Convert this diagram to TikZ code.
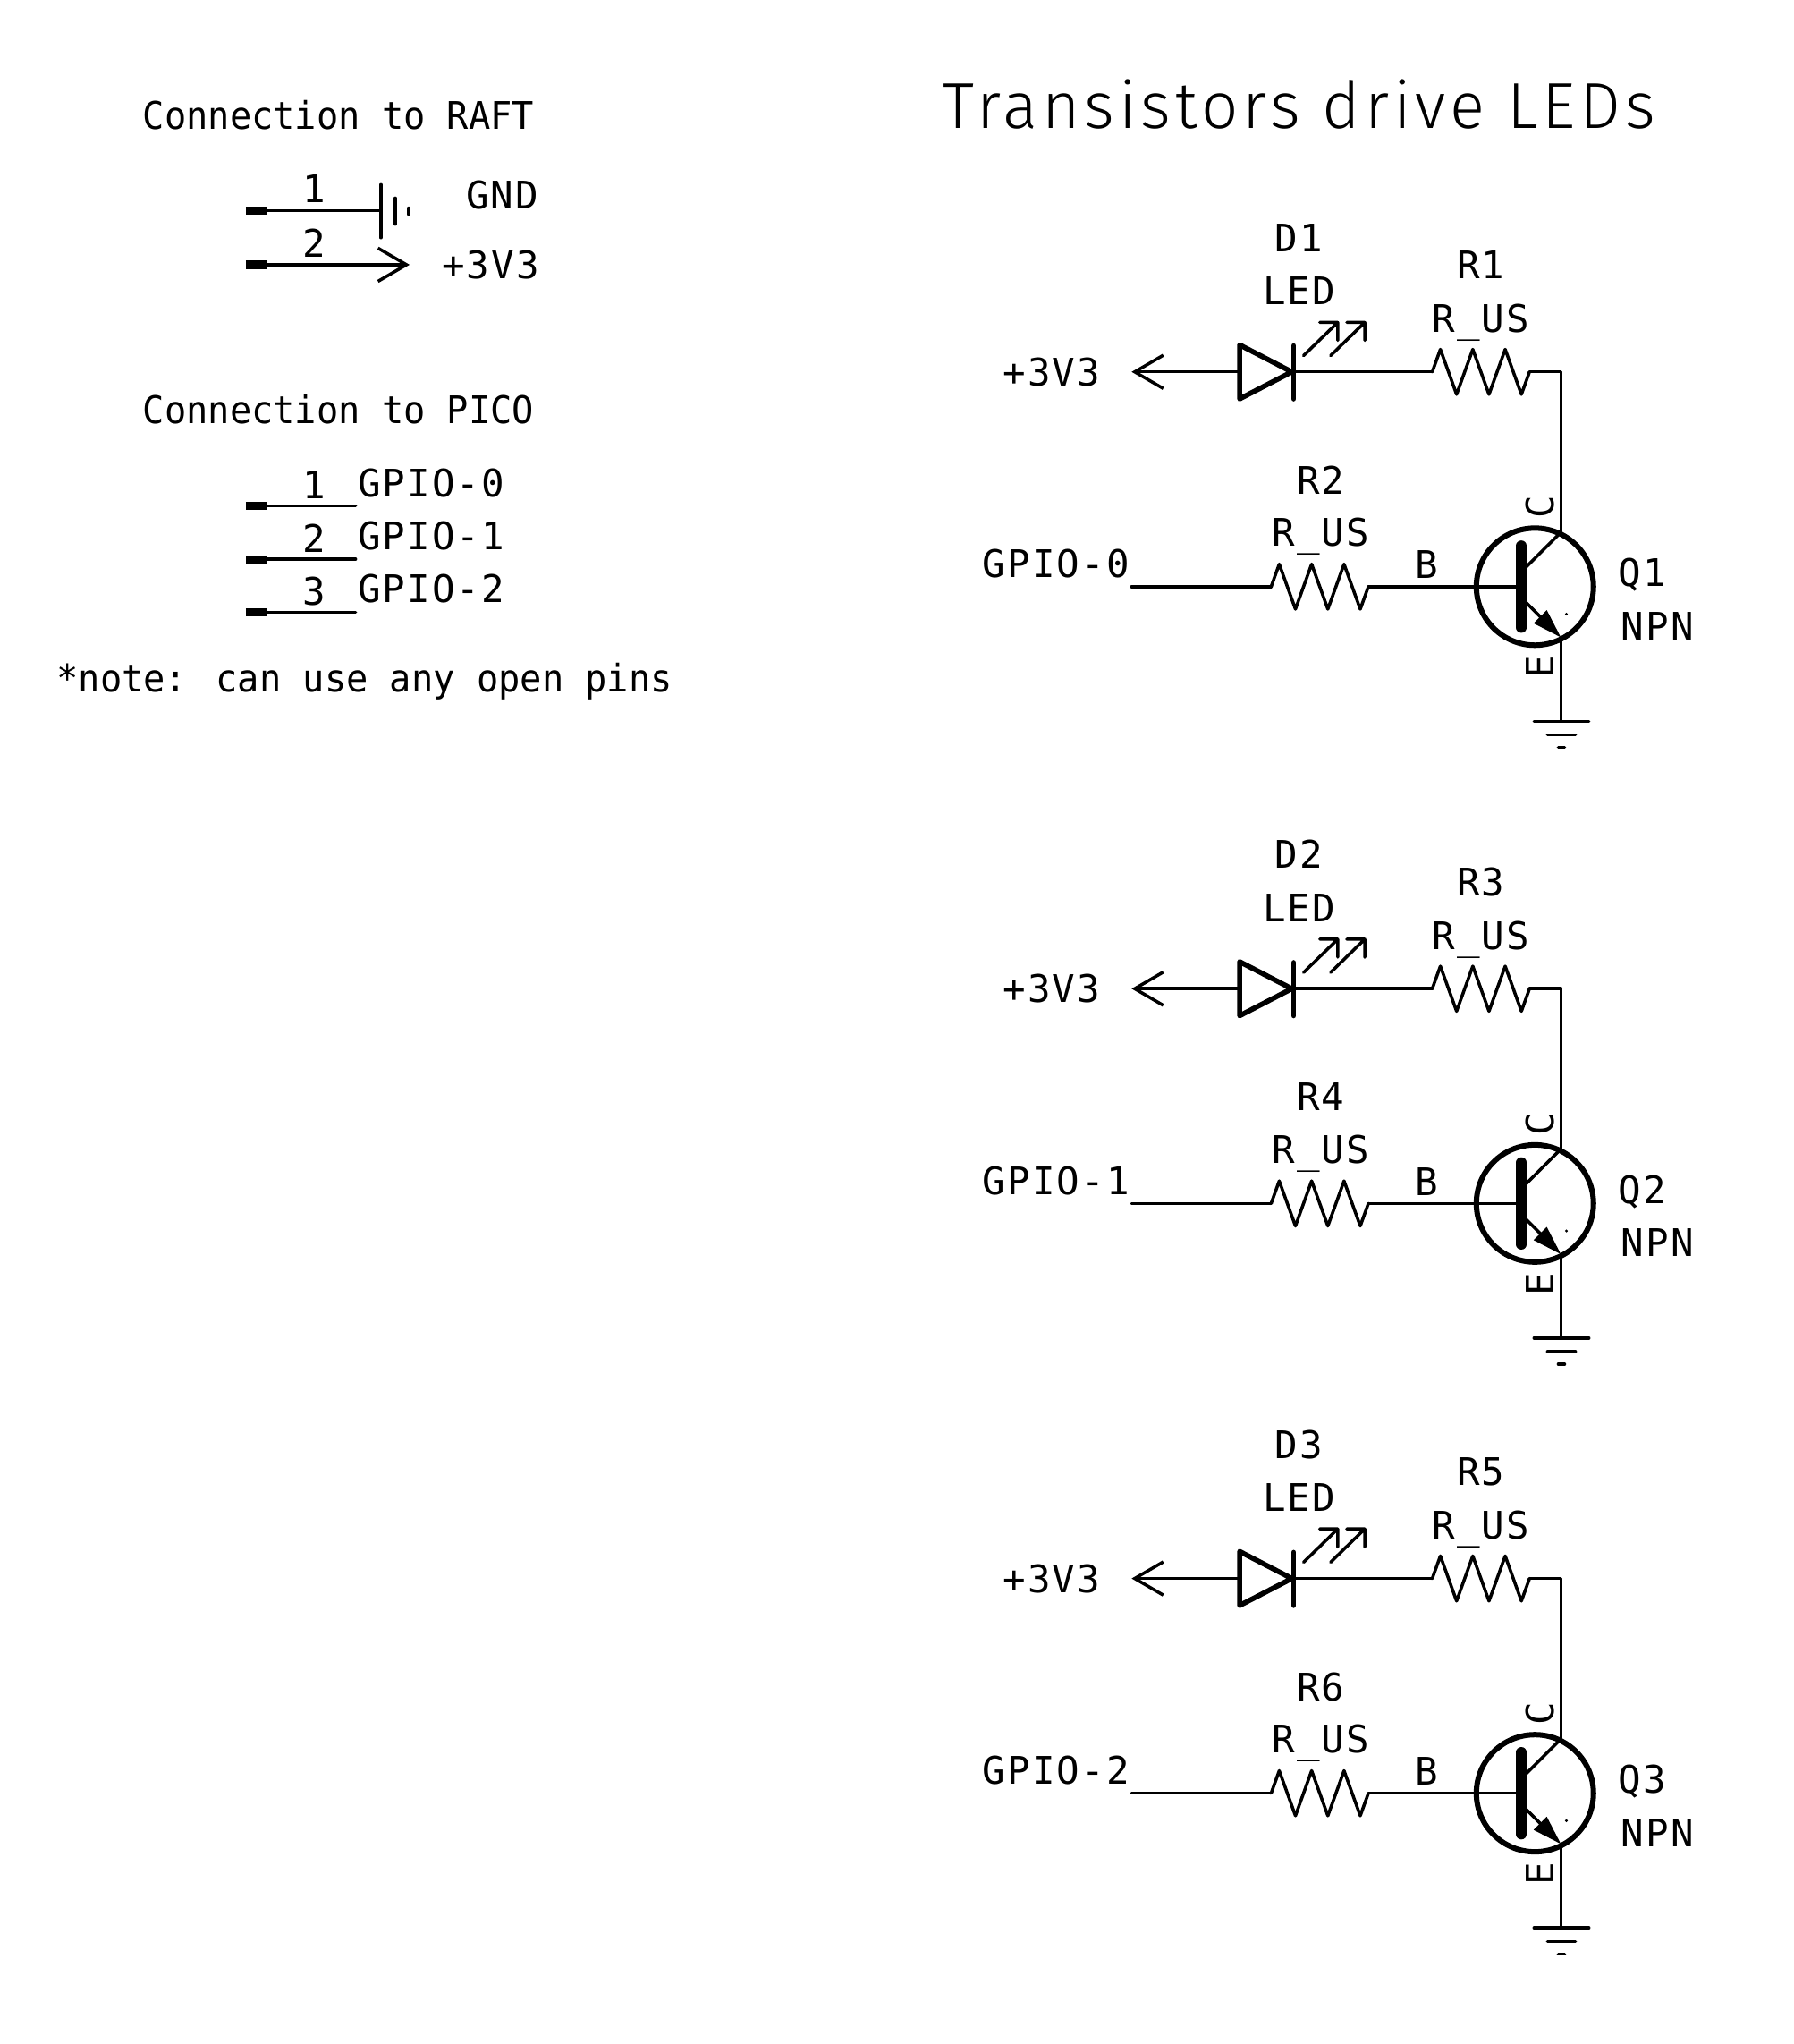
\documentclass[tikz,border=0pt]{standalone}
\usepackage{fontspec}
\usetikzlibrary{arrows.meta}
\newfontfamily\schfont[FakeStretch=0.95]{DejaVu Sans Mono}
\newfontfamily\symfont[LetterSpace=5]{DejaVu Sans Mono}
\newfontfamily\headfont[LetterSpace=6.7]{Fira Sans Light}
\tikzset{
	wire/.style={line width=1pt},
	heavy/.style={line width=1.6pt},
	pad/.style={line width=2.6pt, line cap=butt},
	openhead/.style={-{Straight Barb[length=9pt,width=10.5pt,line width=1pt]}},
	lbl/.style={font=\symfont\fontsize{12}{15}\selectfont, inner sep=0pt, anchor=base},
	txt/.style={font=\schfont\fontsize{12}{15}\selectfont, inner sep=0pt, anchor=base},
	sidelbl/.style={lbl, anchor=center, rotate=90},
	head/.style={font=\headfont\fontsize{20.5}{24}\selectfont, inner sep=0pt, anchor=base},
	zigzag/.pic={\draw[wire] (0,0)--(9,-25)--(27,25)--(45,-25)--(63,25)--(81,-25)--(99,25)--(108,0);},
	ledray/.pic={\draw[wire] (0,0)--(38,-37) (18,-37)--(38,-37)--(38,-17);}
}
\begin{document}
\begin{tikzpicture}[x=0.01cm, y=-0.01cm, line join=round, line cap=round]
	\useasboundingbox (0,0) rectangle (1992,2270);
	\node[txt] (raft) at (376,143.5) {Connection to RAFT};
	\node[txt] (pico) at (376,470.5) {Connection to PICO};
	\node[txt] (note) at (405,768.5) {*note: can use any open pins};
	\node[head] (title) at (1443,142.5) {Transistors drive LEDs};
	% connector to raft
	\coordinate (pa1) at (273,234);
	\coordinate (pb1) at (296,234);
	\coordinate (gnd) at (423,234);
	\coordinate (pa2) at (273,294);
	\coordinate (pb2) at (296,294);
	\coordinate (vcc) at (455,294);
	\draw[pad] (pa1)--(pb1);
	\draw[pad] (pa2)--(pb2);
	\draw[wire] (pb1)--(gnd);
	\draw[wire] (423,205)--(423,264);
	\draw[wire] (439,220)--(439,249);
	\draw[wire] (454,231)--(454,238);
	\draw[wire, openhead] (pb2)--(vcc);
	\node[lbl] (n1) at (349,225) {1};
	\node[lbl] (n2) at (349,286) {2};
	\node[lbl] (gndtext) at (558,231.5) {GND};
	\node[lbl] (vcctext) at (545,309.5) {+3V3};
	% connector to pico
	\foreach \n/\y/\g in {1/562/0, 2/621/1, 3/680/2} {
		\coordinate (qa\n) at (273,\y);
		\coordinate (qb\n) at (296,\y);
		\coordinate (qc\n) at (395,\y);
		\draw[pad] (qa\n)--(qb\n);
		\draw[wire] (qb\n)--(qc\n);
		\node[lbl] (m\n) at (349,\y-8) {\n};
		\node[lbl] (gp\n) at (479,\y-10.5) {GPIO-\g};
	}
	% three led stages
	\foreach \n/\dy/\ra/\rb/\g in {1/0/1/2/0, 2/685/3/4/1, 3/1340/5/6/2} {
	\begin{scope}[shift={(0,\dy)}]
		\coordinate (tip\n) at (1257,413);
		\coordinate (an\n) at (1377,413);
		\coordinate (ca\n) at (1435,413);
		\coordinate (ri\n) at (1591,413);
		\coordinate (ro\n) at (1699,413);
		\coordinate (cor\n) at (1734,413);
		\coordinate (col\n) at (1734,591);
		\coordinate (bi\n) at (1257,651.5);
		\coordinate (si\n) at (1412,651.5);
		\coordinate (so\n) at (1520,651.5);
		\coordinate (bar\n) at (1689,651.5);
		\coordinate (emi\n) at (1734,708);
		\coordinate (gr\n) at (1734,801);
		\node[circle, draw, line width=1.7pt, minimum size=1.3cm, inner sep=0pt] (q\n) at (1705,651.5) {};
		% led
		\draw[wire, openhead] (an\n)--(tip\n);
		\draw[heavy] (an\n)--(1377,383)--(ca\n)--(1377,443)--cycle;
		\draw[heavy] (1437,384)--(1437,443);
		\draw[wire] (ca\n)--(ri\n);
		\pic at (1448,395) {ledray};
		\pic at (1478,395) {ledray};
		\pic at (ri\n) {zigzag};
		\draw[wire] (ro\n)--(cor\n)--(col\n);
		% transistor
		\draw[wire] (bi\n)--(si\n);
		\pic at (si\n) {zigzag};
		\draw[wire] (so\n)--(bar\n);
		\draw[line width=3.3pt] (1690,606)--(1690,697);
		\draw[wire] (1690,635)--(col\n);
		\draw[wire, -{Triangle[length=9.3pt,width=5.6pt]}] (1690,664)--(emi\n);
		\fill (1740,682) circle (1.7);
		% ground
		\draw[wire] (emi\n)--(gr\n);
		\draw[wire] (1704,801)--(1765,801);
		\draw[wire] (1719,816)--(1750,816);
		\draw[wire] (1731,830)--(1738,830);
		% labels
		\node[lbl] (dn\n) at (1443,279.5) {D\n};
		\node[lbl] (dv\n) at (1443,338.5) {LED};
		\node[lbl] (rn\n) at (1645,309.5) {R\ra};
		\node[lbl] (rv\n) at (1645,369.5) {R\_US};
		\node[lbl] (plus\n) at (1168,428.5) {+3V3};
		\node[lbl] (sn\n) at (1467,548.5) {R\rb};
		\node[lbl] (sv\n) at (1467,606.5) {R\_US};
		\node[lbl] (io\n) at (1173,641.5) {GPIO-\g};
		\node[lbl] (bl\n) at (1585,642.5) {B};
		\node[sidelbl] (cl\n) at (1711,563) {C};
		\node[sidelbl] (el\n) at (1711,741) {E};
		\node[lbl] (qn\n) at (1824,651.5) {Q\n};
		\node[lbl] (qv\n) at (1841,710.5) {NPN};
	\end{scope}
	}
\end{tikzpicture}
\end{document}
